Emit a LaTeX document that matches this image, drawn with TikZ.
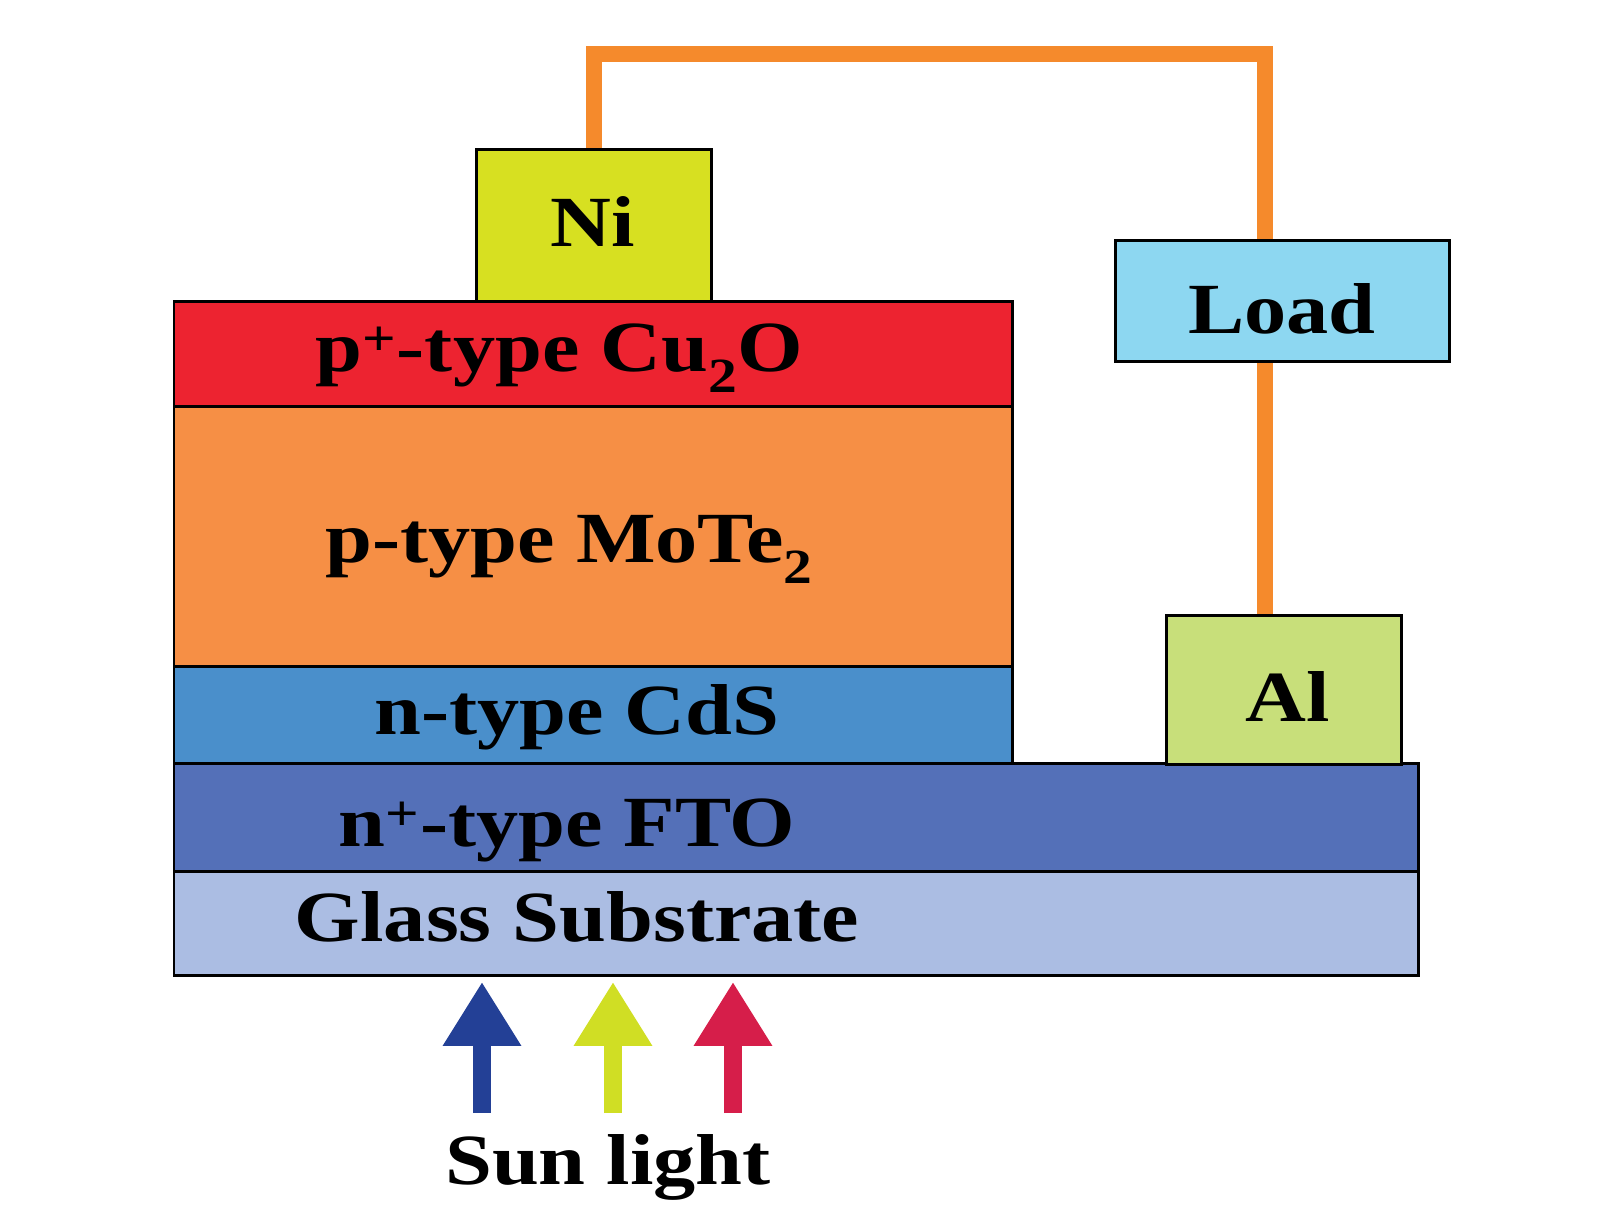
\documentclass[tikz,border=0pt]{standalone}
\usepackage{fontspec}
\setmainfont{Liberation Serif}
\usepackage{graphicx}
\usetikzlibrary{arrows.meta,positioning,calc,backgrounds}
\definecolor{NiYellow}{RGB}{215,224,33}
\definecolor{CuRed}{RGB}{237,35,48}
\definecolor{MoOrange}{RGB}{246,143,69}
\definecolor{CdBlue}{RGB}{74,143,203}
\definecolor{FtoBlue}{RGB}{84,112,184}
\definecolor{GlassBlue}{RGB}{171,189,227}
\definecolor{LoadBlue}{RGB}{141,215,241}
\definecolor{AlGreen}{RGB}{200,223,122}
\definecolor{WireOrange}{RGB}{245,138,44}
\definecolor{RayBlue}{RGB}{35,64,150}
\definecolor{RayYellow}{RGB}{208,222,36}
\definecolor{RayRed}{RGB}{214,30,74}
\newcommand{\wide}[1]{\scalebox{1.17}[1]{#1}}
\newcommand{\low}[1]{\raisebox{-0.3em}{\fontsize{28}{30}\selectfont #1}}

\begin{document}
\begin{tikzpicture}[x=0.02cm,y=-0.02cm,
  layer/.style={draw,line width=1.7pt,inner sep=0pt,outer sep=0pt,anchor=north west,minimum width=16.78cm},
  lbl/.style={font=\bfseries\fontsize{41}{48}\selectfont,inner sep=0pt,anchor=base},
  wire/.style={line width=9pt,draw=WireOrange,line join=miter},
  ray/.style={line width=0.37cm,-{Triangle[length=1.28cm,width=1.48cm]}}]
  \useasboundingbox (0,0) rectangle (1608,1231);

  % device stack
  \node[layer,fill=CuRed,minimum height=2.11cm] (cu2o) at (174,301.5) {};
  \node[layer,fill=MoOrange,minimum height=5.2cm] (mote2) at (cu2o.south west) {};
  \node[layer,fill=CdBlue,minimum height=1.94cm] (cds) at (mote2.south west) {};
  \node[layer,fill=FtoBlue,minimum width=24.9cm,minimum height=2.16cm] (fto) at (cds.south west) {};
  \node[layer,fill=GlassBlue,minimum width=24.9cm,minimum height=2.08cm] (glass) at (fto.south west) {};

  % contacts and load
  \node[layer,fill=NiYellow,anchor=south west,minimum width=4.72cm,minimum height=3.05cm] (ni) at (476,301.5) {};
  \node[layer,fill=AlGreen,anchor=south west,minimum width=4.72cm,minimum height=2.98cm] (al) at (1166,764) {};
  \node[layer,fill=LoadBlue,minimum width=6.7cm,minimum height=2.44cm] (load) at (1115,240) {};

  % labels
  \node[lbl] (niT) at (593,246) {\wide{Ni}};
  \node[lbl] (loadT) at (1282,333) {\wide{Load}};
  \node[lbl] (alT) at (1288,721) {\wide{Al}};
  \node[lbl] (cu2oT) at (559,371) {\wide{p\textsuperscript{+}-type Cu\low{2}O}};
  \node[lbl] (mote2T) at (569,562) {\wide{p-type MoTe\low{2}}};
  \node[lbl] (cdsT) at (577,734) {\wide{n-type CdS}};
  \node[lbl] (ftoT) at (567,846) {\wide{n\textsuperscript{+}-type FTO}};
  \node[lbl] (glassT) at (577,941) {\wide{Glass Substrate}};
  \node[lbl] (sunT) at (608,1184) {\wide{Sun light}};

  % circuit
  \coordinate (bend) at (1265,54);
  \begin{scope}[on background layer]
    \draw[wire] (ni.north) |- (bend) -- (bend |- load.north);
    \draw[wire] (bend |- load.south) -- (bend |- al.north);
  \end{scope}

  % incoming light
  \foreach \x/\c in {482/RayBlue,613/RayYellow,733/RayRed}{
    \coordinate (ray\x) at (\x,1113);
    \draw[ray,\c] (ray\x) -- ([yshift=-0.12cm]ray\x |- glass.south);
  }
\end{tikzpicture}
\end{document}
